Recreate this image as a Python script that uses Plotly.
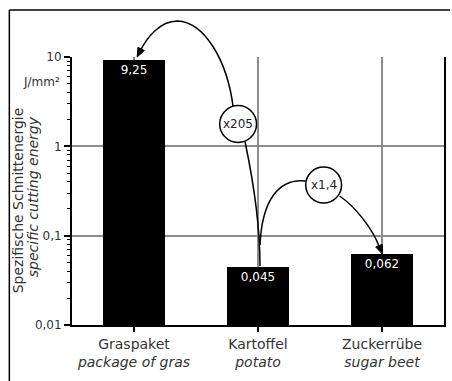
import math
import plotly.graph_objects as go

# ---- data ----
categories_de = ["Graspaket", "Kartoffel", "Zuckerrübe"]
categories_en = ["package of gras", "potato", "sugar beet"]
values = [9.25, 0.045, 0.062]
value_labels = ["9,25", "0,045", "0,062"]
y_tickvals = [0.01, 0.1, 1, 10]
y_ticktext = ["0,01", "0,1", "1", "10"]
factor_labels = ["x205", "x1,4"]
unit_label = "J/mm²"
title_de = "Spezifische Schnittenergie"
title_en = "specific cutting energy"

# ---- layout geometry (pixels) ----
W, H = 452, 381
L, R, T, B = 72, 446, 57, 325
FONT = "DejaVu Sans"
TXT = "#333333"


def px(x):
    return (x - L) / (R - L)


def py(y):
    return (B - y) / (B - T)


def P(x, y):
    return f"{px(x):.5f},{py(y):.5f}"


def head(tip, frm, ln=9.0, w=3.6):
    dx, dy = tip[0] - frm[0], tip[1] - frm[1]
    n = math.hypot(dx, dy)
    ux, uy = dx / n, dy / n
    bx, by = tip[0] - ln * ux, tip[1] - ln * uy
    nx, ny = -uy, ux
    return (f"M {P(*tip)} L {P(bx + w * nx, by + w * ny)} "
            f"L {P(bx - w * nx, by - w * ny)} Z")


xpos = list(range(len(categories_de)))
ticktext = [f"{d}<br><i>{e}</i>" for d, e in zip(categories_de, categories_en)]

fig = go.Figure()
fig.add_trace(go.Bar(
    x=xpos, y=values, width=0.5,
    marker=dict(color="black", line=dict(width=0)),
    text=value_labels, textposition="inside", insidetextanchor="end",
    textfont=dict(family=FONT, size=12, color="white"),
    cliponaxis=False, hoverinfo="skip",
))

line = dict(color="black", width=1.5)
shapes = []
# outer frame (left and top edges; right/bottom run off the picture)
shapes.append(dict(type="line", xref="paper", yref="paper",
                   x0=px(9), x1=px(9), y0=py(381), y1=py(10),
                   line=dict(color="black", width=1.5), layer="above"))
shapes.append(dict(type="line", xref="paper", yref="paper",
                   x0=px(9), x1=px(452), y0=py(10), y1=py(10),
                   line=dict(color="black", width=1.5), layer="above"))
# curve from Kartoffel to Graspaket (through x205 circle)
shapes.append(dict(type="path", xref="paper", yref="paper", layer="above",
                   path=f"M {P(261, 266)} C {P(261, 220)} {P(253, 175)} {P(246, 142)}",
                   line=line))
shapes.append(dict(type="path", xref="paper", yref="paper", layer="above",
                   path=(f"M {P(234, 107)} C {P(228, 60)} {P(205, 22)} {P(178, 21)} "
                         f"C {P(160, 21)} {P(147, 38)} {P(140, 52)}"),
                   line=line))
shapes.append(dict(type="path", xref="paper", yref="paper", layer="above",
                   path=head((137.5, 57), (146, 40)), fillcolor="black",
                   line=dict(color="black", width=1)))
# curve from Kartoffel to Zuckerrübe (through x1,4 circle)
shapes.append(dict(type="path", xref="paper", yref="paper", layer="above",
                   path=f"M {P(261, 245)} C {P(263, 200)} {P(280, 178)} {P(307, 181)}",
                   line=line))
shapes.append(dict(type="path", xref="paper", yref="paper", layer="above",
                   path=f"M {P(341, 196)} C {P(356, 206)} {P(374, 228)} {P(381, 247)}",
                   line=line))
shapes.append(dict(type="path", xref="paper", yref="paper", layer="above",
                   path=head((384, 254), (376, 234)), fillcolor="black",
                   line=dict(color="black", width=1)))
# circles
circles = [(239, 124, 18.5), (325, 185, 18)]
for cx, cy, r in circles:
    shapes.append(dict(type="circle", xref="paper", yref="paper", layer="above",
                       x0=px(cx - r), x1=px(cx + r), y0=py(cy + r), y1=py(cy - r),
                       fillcolor="white", line=dict(color="black", width=1.5)))

annotations = []
for (cx, cy, r), lab in zip(circles, factor_labels):
    annotations.append(dict(xref="paper", yref="paper", x=px(cx), y=py(cy),
                            text=lab, showarrow=False, xanchor="center", yanchor="middle",
                            font=dict(family=FONT, size=12, color="#222222")))
annotations.append(dict(xref="paper", yref="paper", x=px(62), y=py(82), text=unit_label,
                        showarrow=False, xanchor="right", yanchor="middle",
                        font=dict(family=FONT, size=12, color=TXT)))
annotations.append(dict(xref="paper", yref="paper", x=px(18), y=py(200), text=title_de,
                        textangle=-90, showarrow=False, xanchor="center", yanchor="middle",
                        font=dict(family=FONT, size=14, color=TXT)))
annotations.append(dict(xref="paper", yref="paper", x=px(33), y=py(197),
                        text=f"<i>{title_en}</i>",
                        textangle=-90, showarrow=False, xanchor="center", yanchor="middle",
                        font=dict(family=FONT, size=14, color=TXT)))

minor_vals = [m * 10 ** e for e in (-2, -1, 0) for m in range(2, 10)]

fig.update_layout(
    width=W, height=H,
    margin=dict(l=L, r=W - R, t=T, b=H - B, pad=0),
    paper_bgcolor="white", plot_bgcolor="white",
    showlegend=False, bargap=0,
    shapes=shapes, annotations=annotations,
    font=dict(family=FONT, color=TXT),
    xaxis=dict(range=[-0.5, 2.5], tickvals=xpos, ticktext=ticktext,
               ticks="outside", ticklen=5, tickwidth=1.5, tickcolor="black",
               showline=True, linewidth=2, linecolor="black",
               showgrid=True, gridcolor="#8c8c8c", gridwidth=1.5,
               tickfont=dict(family=FONT, size=14, color=TXT), zeroline=False),
    yaxis=dict(type="log", range=[-2, 1], tickvals=y_tickvals, ticktext=y_ticktext,
               ticks="outside", ticklen=6, tickwidth=1.5, tickcolor="black",
               minor=dict(tickvals=minor_vals, ticks="outside", ticklen=3,
                          tickwidth=1, tickcolor="black", showgrid=False),
               showline=True, linewidth=2, linecolor="black", mirror=True,
               showgrid=True, gridcolor="#8c8c8c", gridwidth=1.5,
               tickfont=dict(family=FONT, size=12, color=TXT), zeroline=False),
)

fig.write_html("out.html", config={"displayModeBar": False},
               post_script="document.body.style.margin='0px';document.body.style.overflow='hidden';")
